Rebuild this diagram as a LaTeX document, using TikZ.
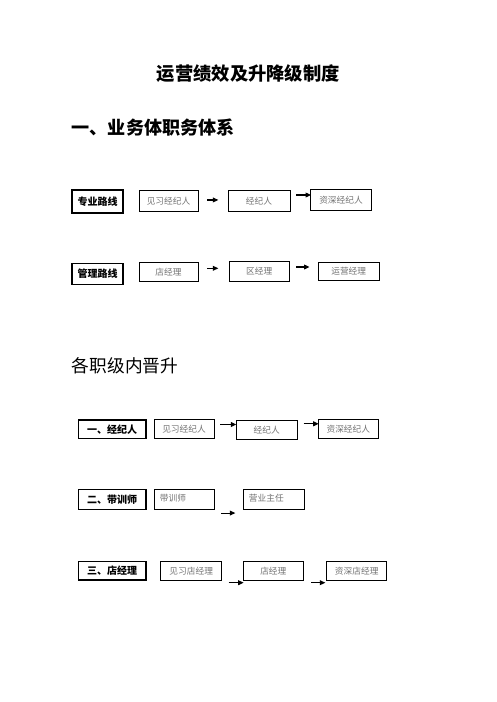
\documentclass[tikz,border=0pt]{standalone}
\usepackage{fontspec}
\setmainfont{Noto Sans CJK SC}
\usetikzlibrary{arrows.meta}

\begin{document}
\begin{tikzpicture}[x=1pt,y=-1pt,
tag/.style={draw,line width=1.2pt,inner sep=0pt,font=\bfseries\fontsize{10}{12}\selectfont},
post/.style={draw,line width=0.7pt,inner sep=0pt,text=black!55,font=\fontsize{8.7}{10}\selectfont},
note/.style={inner sep=0pt,text=black!55,font=\fontsize{8.7}{10}\selectfont,anchor=north west},
arr/.style={line width=1.1pt,-{Triangle[length=5.5pt,width=4.8pt]}}]
\fill[white] (0,0) rectangle (496,702);

\node[font=\bfseries\fontsize{18.3}{20}\selectfont] (title) at (248.3,74) {运营绩效及升降级制度};
\node[anchor=west,inner sep=0pt,font=\bfseries\fontsize{18.1}{20}\selectfont] (part1) at (71.5,128) {一、业务体职务体系};

\node[tag,minimum width=51,minimum height=23] (zy) at (97.5,201.5) {专业路线};
\node[post,minimum width=59,minimum height=20.5] (jxjjr) at (168.5,200.75) {见习经纪人};
\node[post,minimum width=62,minimum height=21] (jjr) at (259,201) {经纪人};
\node[post,minimum width=60.5,minimum height=21] (zsjjr) at (341,199.7) {资深经纪人};
\draw[arr] ([shift={(8.7,-0.8)}]jxjjr.east) -- ++(11.3,0);
\draw[arr] ([shift={(6,-6)}]jjr.east) -- ++(14.7,0);

\node[tag,minimum width=51,minimum height=21] (gl) at (97.5,273.6) {管理路线};
\node[post,minimum width=59,minimum height=19] (djl) at (168.5,272.2) {店经理};
\node[post,minimum width=60,minimum height=19.5] (qjl) at (259.2,271.4) {区经理};
\node[post,minimum width=60.7,minimum height=18] (yyjl) at (348.7,271.5) {运营经理};
\draw[arr] ([shift={(8.7,-3.9)}]djl.east) -- ++(11.3,0);
\draw[arr] ([shift={(6.7,-4.4)}]qjl.east) -- ++(13.3,0);

\node[anchor=west,inner sep=0pt,font=\fontsize{17.7}{20}\selectfont] (part2) at (71.7,366) {各职级内晋升};

\node[tag,minimum width=67.7,minimum height=18.3] (sjjr) at (112.2,429.2) {一、经纪人};
\node[post,minimum width=60,minimum height=19] (jxjjr2) at (184,428.8) {见习经纪人};
\node[post,minimum width=61.3,minimum height=19.5] (jjr2) at (266.7,429.8) {经纪人};
\node[post,minimum width=60,minimum height=19] (zsjjr2) at (348.3,428.8) {资深经纪人};
\draw[arr] ([shift={(6,-4.3)}]jxjjr2.east) -- ++(16,0);
\draw[arr] ([shift={(6,-6)}]jjr2.east) -- ++(15,0);

\node[tag,minimum width=67.7,minimum height=20] (sdxs) at (112.2,499.3) {二、带训师};
\node[post,minimum width=60,minimum height=20] (dxs) at (184,499.3) {};
\node[note] at ([shift={(6,5)}]dxs.north west) {带训师};
\node[post,minimum width=60.7,minimum height=20] (yyzr) at (273.7,499.3) {};
\node[note] at ([shift={(5.7,5)}]yyzr.north west) {营业主任};
\draw[arr] ([shift={(6.7,3.4)}]dxs.south east) -- ++(14.3,0);

\node[tag,minimum width=67.7,minimum height=18.3] (sdjl) at (112.2,570.9) {三、店经理};
\node[post,minimum width=61,minimum height=19] (jxdjl) at (191.2,571.2) {见习店经理};
\node[post,minimum width=60,minimum height=18.3] (djl2) at (273.3,570.9) {店经理};
\node[post,minimum width=60,minimum height=18.3] (zsdjl) at (356.7,570.9) {资深店经理};
\draw[arr] ([shift={(6.6,11.5)}]jxdjl.east) -- ++(15,0);
\draw[arr] ([shift={(7.4,11.8)}]djl2.east) -- ++(14.3,0);

\useasboundingbox (0,0) rectangle (496,702);
\end{tikzpicture}
\end{document}
